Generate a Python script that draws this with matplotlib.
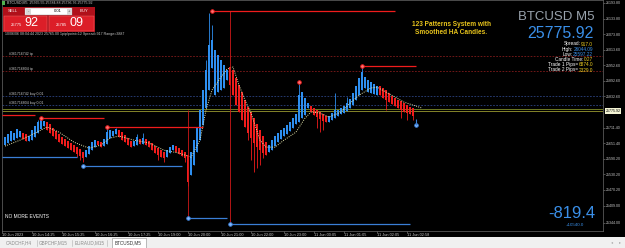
import matplotlib
matplotlib.use("Agg")
import matplotlib.pyplot as plt
import matplotlib.transforms as mtransforms
from matplotlib.patches import Rectangle
import numpy as np

plt.rcParams['font.family'] = ['Liberation Sans', 'DejaVu Sans']

# ---------------- data ----------------
ha_open = [25644, 25652, 25659, 25663, 25671, 25675, 25690, 25686, 25659, 25663,
           25675, 25690, 25706, 25717, 25733, 25725, 25710, 25698, 25686, 25675,
           25667, 25659, 25652, 25644, 25636, 25628, 25617, 25597, 25609, 25624,
           25636, 25659, 25655, 25640, 25648, 25671, 25679, 25686, 25702, 25694,
           25683, 25671, 25659, 25640, 25644, 25667, 25648, 25667, 25659, 25652,
           25640, 25632, 25624, 25617, 25597, 25613, 25624, 25640, 25632, 25624,
           25617, 25605, 25528, 25566, 25617, 25663, 25721, 25787, 25857, 25942,
           25837, 25849, 25857, 25865, 25896, 25946, 25934, 25903, 25876, 25849,
           25818, 25791, 25772, 25748, 25725, 25702, 25679, 25655, 25617, 25624,
           25640, 25655, 25667, 25679, 25686, 25698, 25710, 25725, 25733, 25748,
           25760, 25787, 25795, 25787, 25779, 25772, 25764, 25756, 25733, 25741,
           25748, 25756, 25764, 25768, 25775, 25787, 25799, 25818, 25837, 25857,
           25865, 25849, 25845, 25841, 25837, 25872, 25865, 25857, 25845, 25834,
           25826, 25818, 25814, 25806, 25799, 25791, 25787]
ha_close = [25675, 25686, 25698, 25690, 25706, 25698, 25667, 25659, 25679, 25702,
            25717, 25733, 25741, 25737, 25702, 25690, 25679, 25667, 25655, 25648,
            25640, 25632, 25624, 25617, 25609, 25601, 25594, 25624, 25640, 25655,
            25663, 25644, 25636, 25667, 25694, 25702, 25698, 25706, 25675, 25663,
            25655, 25644, 25636, 25659, 25675, 25648, 25671, 25644, 25636, 25624,
            25613, 25605, 25597, 25594, 25624, 25636, 25644, 25617, 25609, 25601,
            25594, 25501, 25617, 25663, 25710, 25779, 25857, 25934, 26031, 26050,
            26012, 25992, 25973, 25954, 25934, 25876, 25837, 25799, 25772, 25741,
            25714, 25690, 25671, 25652, 25636, 25624, 25613, 25605, 25644, 25663,
            25679, 25690, 25702, 25710, 25721, 25733, 25748, 25764, 25837, 25849,
            25826, 25806, 25772, 25760, 25752, 25744, 25737, 25733, 25756, 25768,
            25779, 25779, 25787, 25795, 25806, 25822, 25845, 25872, 25903, 25926,
            25907, 25896, 25888, 25880, 25872, 25837, 25826, 25818, 25810, 25803,
            25795, 25787, 25779, 25772, 25768, 25764, 25756]

spike_hi_idx = [11, 12, 34, 37, 44, 46, 67, 68, 69, 98, 110, 114, 119]
spike_hi_val = [25741, 25752, 25717, 25710, 25686, 25690, 25973, 26155, 26108,
                25880, 25845, 25830, 25946]
spike_lo_idx = [24, 25, 26, 51, 53, 60, 61, 81, 82, 83, 84, 85, 86, 104, 105,
                106, 127, 132, 134, 136]
spike_lo_val = [25597, 25586, 25578, 25586, 25578, 25578, 25485, 25663, 25586,
                25539, 25555, 25566, 25594, 25710, 25694, 25702, 25779, 25748,
                25741, 25741]

smooth_idx = [0, 5, 10, 14, 18, 23, 28, 32, 35, 38, 43, 48, 53, 58, 62, 65, 67,
              69, 72, 74, 76, 78, 80, 82, 85, 87, 90, 93, 97, 100, 102, 105, 108,
              112, 115, 118, 122, 124, 127, 130, 133, 137, 139]
smooth_val = [25640, 25663, 25690, 25714, 25694, 25655, 25632, 25644, 25671,
              25679, 25663, 25652, 25624, 25613, 25597, 25663, 25779, 25857,
              25907, 25938, 25946, 25876, 25818, 25768, 25663, 25636, 25636,
              25663, 25694, 25748, 25772, 25768, 25752, 25772, 25806, 25837,
              25865, 25868, 25849, 25830, 25810, 25795, 25787]

red_sig_idx = [12, 34, 69, 98, 119]
red_sig_price = [25748, 25714, 26162, 25888, 25950]
red_sig_end = [33, 66, 130, 98, 137]
blue_sig_idx = [26, 61, 75, 137]
blue_sig_price = [25563, 25361, 25338, 25721]
blue_sig_end = [59, 74, 135, 137]
prev_red_level, prev_red_end = 25760, 10
prev_blue_level, prev_blue_end = 25597, 24
vline_idx = [61, 75]
vline_top = [25779, 26162]
vline_bot = [25361, 25338]

tp_levels = [25988, 25930]
tp_labels = ["#361716742 tp", "#361716804 tp"]
buy_levels = [25834, 25799]
buy_labels = ["#361716742 buy 0.01", "#361716804 buy 0.01"]
ask_price, bid_price = 25785.09, 25775.92

time_tick_idx = [-1, 9, 19, 30, 41, 51, 61, 72, 82, 93, 103, 113, 124, 134]
time_tick_labels = ["10 Jun 2023", "10 Jun 14:25", "10 Jun 15:25", "10 Jun 16:25",
                    "10 Jun 17:25", "10 Jun 19:00", "10 Jun 20:00", "10 Jun 21:00",
                    "10 Jun 22:00", "10 Jun 23:00", "11 Jun 00:05", "11 Jun 01:05",
                    "11 Jun 02:05", "11 Jun 02:58"]
price_ticks = [26193.80, 26133.80, 26073.80, 26013.60, 25952.60, 25892.60,
               25832.60, 25711.40, 25651.40, 25590.20, 25530.20, 25470.20,
               25409.00, 25344.00]

info_labels = ["Spread:", "High:", "Low:", "Candle Time:", "Trade 1 Pips=", "Trade 2 Pips="]
info_values = ["917.0", "26044.09", "25597.22", "0:27", "6874.0", "2329.0"]
tabs = ["CADCHF,H4", "GBPCHF,M15", "EURAUD,M15", "BTCUSD,M5"]

# ---------------- styling ----------------
BLUE = '#2e8ff0'
RED = '#f01c1c'
TXT = '#c8c8c8'
W, H = 625, 248

fig = plt.figure(figsize=(6.25, 2.48), dpi=100, facecolor='black')


def fbox(x0, y0, x1, y1):
    return [x0 / W, 1 - y1 / H, (x1 - x0) / W, (y1 - y0) / H]


ax = fig.add_axes(fbox(2, 0, 603, 231))
ax.set_facecolor('black')
XMIN, XMAX = -1, 199.33
ax.set_xlim(XMIN, XMAX)
ax.set_ylim(25311.4, 26205.4)
for s in ax.spines.values():
    s.set_color('#6a6a6a')
    s.set_linewidth(0.5)

# level lines
for lv, lb in zip(tp_levels, tp_labels):
    ax.hlines(lv, XMIN, XMAX, colors='#9a2020', linestyles=(0, (2.5, 2)), lw=0.5, zorder=2)
    ax.text(1.2, lv, lb, fontsize=2.5, color=TXT, va='bottom', ha='left', zorder=3)
for lv, lb in zip(buy_levels, buy_labels):
    ax.hlines(lv, XMIN, XMAX, colors='#35509a', linestyles=(0, (2.5, 2)), lw=0.5, zorder=2)
    ax.text(1.2, lv, lb, fontsize=2.5, color=TXT, va='bottom', ha='left', zorder=3)
ax.hlines(ask_price, XMIN, XMAX, colors='#7f8c28', lw=0.6, zorder=2)
ax.hlines(bid_price, XMIN, XMAX, colors='#9a9a30', lw=0.6, zorder=2)

# candles
o = np.array(ha_open, float)
c = np.array(ha_close, float)
n = len(o)
idx = np.arange(n)
hi = np.maximum(o, c)
lo = np.minimum(o, c)
hi[spike_hi_idx] = np.maximum(hi[spike_hi_idx], spike_hi_val)
lo[spike_lo_idx] = np.minimum(lo[spike_lo_idx], spike_lo_val)
col = np.where(c >= o, BLUE, RED)
ax.vlines(idx, lo, hi, colors=col, lw=0.6, zorder=4)
ax.bar(idx, np.abs(c - o), bottom=np.minimum(o, c), width=0.75, color=col,
       lw=0, zorder=5)

# smoothing line
ax.plot(smooth_idx, smooth_val, ls=(0, (1, 1.3)), lw=0.7, color='#e0e0a8', zorder=6)

# signals
ax.hlines(prev_red_level, XMIN, prev_red_end, colors=RED, lw=0.9, zorder=6)
ax.hlines(prev_blue_level, XMIN, prev_blue_end, colors='#3a7fd6', lw=0.9, zorder=6)
ax.vlines(vline_idx, vline_bot, vline_top, colors='#d01818', lw=0.6, zorder=6)
for i, p, e in zip(red_sig_idx, red_sig_price, red_sig_end):
    ax.hlines(p, i, e, colors=RED, lw=0.9, zorder=6)
ax.plot(red_sig_idx, red_sig_price, 'o', ms=2.6, mfc='#ff7070', mec=RED, mew=0.6, zorder=7)
for i, p, e in zip(blue_sig_idx, blue_sig_price, blue_sig_end):
    ax.hlines(p, i, e, colors='#3a7fd6', lw=0.9, zorder=6)
ax.plot(blue_sig_idx, blue_sig_price, 'o', ms=2.6, mfc='#80b8ff', mec='#3a7fd6', mew=0.6, zorder=7)
ax.vlines(blue_sig_idx[-1], blue_sig_price[-1], blue_sig_price[-1] + 25,
          colors='#3a7fd6', lw=0.8, zorder=7)

# axes ticks
ax.set_xticks(time_tick_idx)
ax.set_xticklabels(time_tick_labels, fontsize=2.8, color=TXT, ha='left')
ax.tick_params(axis='x', length=1.2, pad=0.2, color='#8a8a8a', width=0.4)
ax.yaxis.tick_right()
ax.set_yticks(price_ticks)
ax.set_yticklabels([f"{v:.2f}" for v in price_ticks], fontsize=2.6, color=TXT)
ax.tick_params(axis='y', length=1.5, pad=0.8, color='#8a8a8a', width=0.4)
blend = mtransforms.blended_transform_factory(ax.transAxes, ax.transData)
ax.text(1.004, bid_price, f"{bid_price:.2f}", transform=blend, fontsize=2.6,
        color='black', va='center', ha='left', clip_on=False, zorder=10,
        bbox=dict(boxstyle='square,pad=0.25', fc='#f4f4d4', ec='none'))

# ---------------- overlay (texts, panels) ----------------
ov = fig.add_axes([0, 0, 1, 1])
ov.set_xlim(0, W)
ov.set_ylim(H, 0)
ov.axis('off')

# title line
ov.add_patch(Rectangle((2, 1), 3, 4, fc='#50b050', ec='none'))
ov.text(7, 3, "BTCUSD,M5  25765.55 25784.88 25736.76 25775.92", fontsize=2.6,
        color=TXT, va='center', ha='left')

# one-click panel
ov.add_patch(Rectangle((3, 7), 92, 24.5, fc='#b0101a', ec='none'))
ov.add_patch(Rectangle((25, 8), 47, 7, fc='white', ec='#909090', lw=0.3))
ov.add_patch(Rectangle((25.5, 8.5), 5, 6, fc='#d8d8d8', ec='none'))
ov.add_patch(Rectangle((66.5, 8.5), 5, 6, fc='#d8d8d8', ec='none'))
ov.text(28, 11.5, '-', fontsize=3, color='#404040', ha='center', va='center')
ov.text(69, 11.5, '+', fontsize=3, color='#404040', ha='center', va='center')
ov.text(62, 11.5, '0.01', fontsize=3, color='black', ha='right', va='center')
ov.text(13, 11.5, 'SELL', fontsize=3, color='white', ha='center', va='center')
ov.text(84, 11.5, 'BUY', fontsize=3, color='white', ha='center', va='center')
ov.add_patch(Rectangle((4, 16), 43, 14.5, fc='#dc1e28', ec='#f07070', lw=0.3))
ov.add_patch(Rectangle((49, 16), 45, 14.5, fc='#dc1e28', ec='#f07070', lw=0.3))
ov.text(16.5, 25.5, '25775', fontsize=3, color='white', ha='center', va='center')
ov.text(24.5, 23.3, '92', fontsize=9, color='white', ha='left', va='center')
ov.text(61.5, 25.5, '25785', fontsize=3, color='white', ha='center', va='center')
ov.text(69.5, 23.3, '09', fontsize=9, color='white', ha='left', va='center')

ov.text(5, 33.5, "10/06/06 08:04:44 2023 25765.00 1pip/point=12 Spread=917 Range=3887",
        fontsize=2.6, color=TXT, ha='left', va='center')

# right side info
ov.text(451, 25, "123 Patterns System with", fontsize=4.7, fontweight='bold',
        color='#e8c41c', ha='center', va='center')
ov.text(451, 33, "Smoothed HA Candles.", fontsize=4.7, fontweight='bold',
        color='#e8c41c', ha='center', va='center')
ov.text(595, 17, "BTCUSD M5", fontsize=9.5, color='#98a2ac', ha='right', va='center')
ov.text(594, 34, "25775.92", fontsize=11.5, color='#3a8fe8', ha='right', va='center')

renderer = fig.canvas.get_renderer()
info_y = [44, 49.2, 54.4, 59.6, 64.8, 70]
info_col = ['#f0d020', '#3a8fe8', '#3a8fe8', '#f0d020', '#f0d020', '#f0d020']
for lab, val, vc, y in zip(info_labels, info_values, info_col, info_y):
    t = ov.text(593, y, val, color=vc, fontsize=3.4, ha='right', va='center')
    bb = t.get_window_extent(renderer)
    x0 = ov.transData.inverted().transform((bb.x0, bb.y0))[0]
    ov.text(x0 - 0.3, y, lab, color='white', fontsize=3.4, ha='right', va='center')

ov.text(5, 217, "NO MORE EVENTS", fontsize=3.5, color='white', ha='left', va='center')
ov.text(595, 214, "-819.4", fontsize=12, color='#3a8fe8', ha='right', va='center')
ov.text(575, 225.5, "+10540.0", fontsize=3.2, color='#3a8fe8', ha='center', va='center')

# tab bar
ov.add_patch(Rectangle((0, 237), W, 11, fc='#f0f0f0', ec='none'))
tab_x = [19, 53, 90, 128]
for k, (tx, tn) in enumerate(zip(tab_x, tabs)):
    if k == len(tabs) - 1:
        ov.add_patch(Rectangle((112, 238), 34, 9.5, fc='white', ec='#8a8a8a', lw=0.4))
        ov.text(tx, 243, tn, fontsize=3.3, color='#303030', ha='center', va='center')
    else:
        ov.text(tx, 243, tn, fontsize=3.3, color='#8a8a8a', ha='center', va='center')
for sx in [37, 72, 107]:
    ov.plot([sx, sx], [240, 246], color='#b0b0b0', lw=0.4)
ov.text(612, 242.5, '\u25c2', fontsize=3, color='#a8a8a8', ha='center', va='center')
ov.text(620, 242.5, '\u25b8', fontsize=3, color='#a8a8a8', ha='center', va='center')

fig.savefig('out.png', dpi=100, facecolor='black')
